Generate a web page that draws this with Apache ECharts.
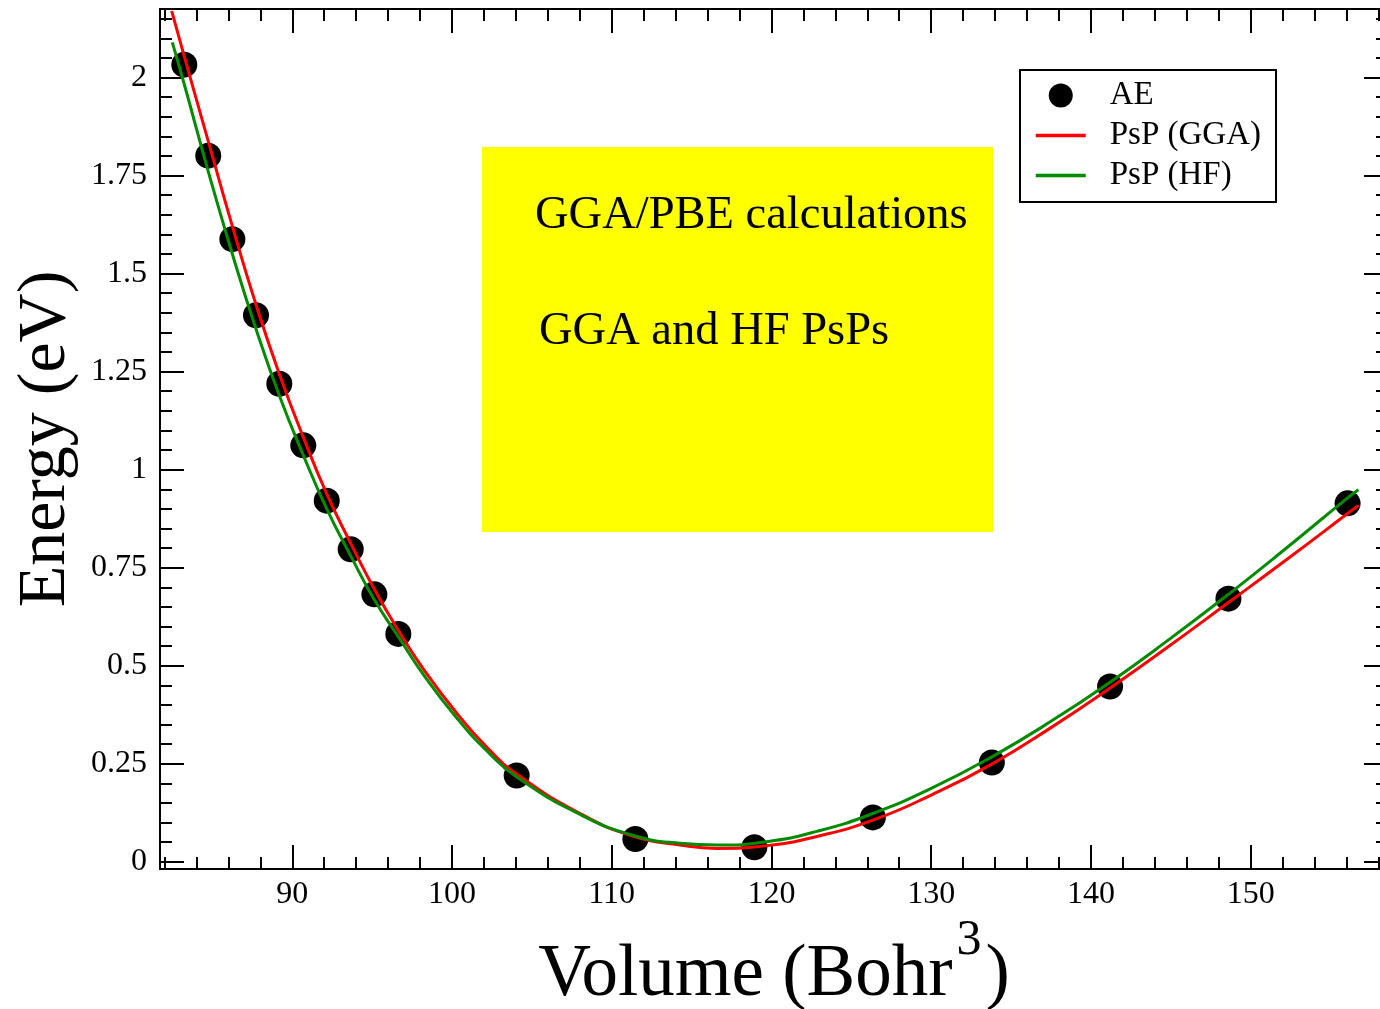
<!DOCTYPE html>
<html>
<head>
<meta charset="utf-8">
<script src="https://cdn.jsdelivr.net/npm/echarts@6/dist/echarts.min.js"></script>
<style>
html,body{margin:0;padding:0;background:#fff;overflow:hidden;}
#main{width:1390px;height:1009px;}
</style>
</head>
<body>
<div id="main"></div>
<script>
// AE points (volume, energy)
var aeVol = [83.24, 84.74, 86.25, 87.73, 89.19, 90.69, 92.16, 93.66, 95.14, 96.64,
	104.05, 111.48, 118.93, 126.35, 133.8, 141.2, 148.61, 156.07];
var aeEnergy = [2.033, 1.801, 1.588, 1.394, 1.219, 1.062, 0.921, 0.797, 0.682, 0.581,
	0.220, 0.058, 0.037, 0.113, 0.253, 0.447, 0.671, 0.914];

// PsP (GGA) curve
var ggaVol = [82.45, 83.24, 84.74, 86.25, 87.73, 89.19, 90.69, 92.16, 93.66, 95.14, 96.64,
	98.2, 100.35, 102.2, 104.05, 108.02, 111.36, 114.28, 116.58, 119.71, 122.9, 126.35,
	130.0, 133.8, 137.5, 141.2, 144.9, 148.61, 152.3, 156.07, 156.75];
var ggaEnergy = [2.17, 2.054, 1.838, 1.621, 1.421, 1.244, 1.083, 0.938, 0.812, 0.695, 0.590,
	0.492, 0.376, 0.291, 0.224, 0.123, 0.065, 0.0425, 0.034, 0.041, 0.065, 0.106,
	0.170, 0.249, 0.342, 0.443, 0.550, 0.661, 0.772, 0.888, 0.909];

// PsP (HF) curve
var hfVol = [82.49, 83.24, 84.74, 86.25, 87.73, 89.19, 90.69, 92.16, 93.66, 95.14, 96.64,
	98.2, 100.35, 102.2, 104.05, 108.02, 111.36, 114.28, 116.58, 119.71, 122.9, 126.35,
	130.0, 133.8, 137.5, 141.2, 144.9, 148.61, 152.3, 156.07, 156.75];
var hfEnergy = [2.09, 1.983, 1.761, 1.550, 1.359, 1.189, 1.037, 0.900, 0.780, 0.668, 0.574,
	0.478, 0.364, 0.282, 0.216, 0.1205, 0.067, 0.047, 0.0425, 0.051, 0.078, 0.123,
	0.187, 0.2675, 0.358, 0.458, 0.567, 0.682, 0.802, 0.928, 0.949];

// ticks
var xMajorTicks = [90, 100, 110, 120, 130, 140, 150];
var xMinorTicks = [82, 84, 86, 88, 92, 94, 96, 98, 102, 104, 106, 108, 112, 114, 116, 118,
	122, 124, 126, 128, 132, 134, 136, 138, 142, 144, 146, 148, 152, 154, 156, 158];
var yMajorTicks = [0, 0.25, 0.5, 0.75, 1, 1.25, 1.5, 1.75, 2];
var yMinorTicks = [0.05, 0.1, 0.15, 0.2, 0.3, 0.35, 0.4, 0.45, 0.55, 0.6, 0.65, 0.7,
	0.8, 0.85, 0.9, 0.95, 1.05, 1.1, 1.15, 1.2, 1.3, 1.35, 1.4, 1.45, 1.55, 1.6, 1.65, 1.7,
	1.8, 1.85, 1.9, 1.95, 2.05, 2.1, 2.15];

var XMIN = 81.72, XMAX = 158.6, YMIN = -0.0186, YMAX = 2.175;
var serif = 'Liberation Serif';

function pairs(xs, ys){
	var out = [];
	for(var i=0;i<xs.length;i++) out.push([xs[i], ys[i]]);
	return out;
}

function xAx(pos, ticks, len, withLabels){
	return {
		type: 'value', position: pos, min: XMIN, max: XMAX,
		axisLine: {show: true, onZero: false, lineStyle: {color: '#000', width: 2}},
		axisTick: {show: true, inside: true, length: len, customValues: ticks, lineStyle: {color: '#000', width: 2}},
		axisLabel: {show: withLabels, customValues: ticks, color: '#000', fontFamily: serif, fontSize: 32, margin: 10},
		splitLine: {show: false}
	};
}
function yAx(pos, ticks, len, withLabels){
	return {
		type: 'value', position: pos, min: YMIN, max: YMAX,
		axisLine: {show: true, onZero: false, lineStyle: {color: '#000', width: 2}},
		axisTick: {show: true, inside: true, length: len, customValues: ticks, lineStyle: {color: '#000', width: 2}},
		axisLabel: {show: withLabels, customValues: ticks, color: '#000', fontFamily: serif, fontSize: 32, margin: 13},
		splitLine: {show: false}
	};
}

var xAxes = [xAx('bottom', xMajorTicks, 24, true), xAx('bottom', xMinorTicks, 12, false),
	xAx('top', xMajorTicks, 24, false), xAx('top', xMinorTicks, 12, false)];
xAxes[0].name = '{a|Volume (Bohr}{s|3}{a|)}';
xAxes[0].nameLocation = 'middle';
xAxes[0].nameGap = 42;
xAxes[0].nameTextStyle = {
	color: '#000', fontFamily: serif,
	rich: {
		a: {fontSize: 73, fontFamily: serif, color: '#000', lineHeight: 120},
		s: {fontSize: 50, fontFamily: serif, color: '#000', verticalAlign: 'top', padding: [0, 4, 0, 4]}
	}
};
var yAxes = [yAx('left', yMajorTicks, 24, true), yAx('left', yMinorTicks, 12, false),
	yAx('right', yMajorTicks, 24, false), yAx('right', yMinorTicks, 12, false)];
yAxes[0].name = 'Energy (eV)';
yAxes[0].nameLocation = 'middle';
yAxes[0].nameGap = 78;
yAxes[0].nameTextStyle = {color: '#000', fontFamily: serif, fontSize: 68};

var chart = echarts.init(document.getElementById('main'));
var option = {
	backgroundColor: '#fff',
	animation: false,
	grid: {left: 160, right: 2, top: 9, bottom: 140, outerBoundsMode: 'none', containLabel: false},
	xAxis: xAxes,
	yAxis: yAxes,
	graphic: [
		{type: 'rect', z: 1, shape: {x: 482, y: 147, width: 511, height: 385}, style: {fill: '#ffff00'}},
		{type: 'text', z: 2, x: 535, y: 216, style: {text: 'GGA/PBE calculations', font: '46.5px "Liberation Serif"', fill: '#000', verticalAlign: 'middle'}},
		{type: 'text', z: 2, x: 539, y: 332, style: {text: 'GGA and HF PsPs', font: '46.5px "Liberation Serif"', fill: '#000', verticalAlign: 'middle'}}
	],
	legend: {
		orient: 'vertical', left: 1020, top: 70,
		backgroundColor: '#fff', borderColor: '#000', borderWidth: 2, borderRadius: 0,
		padding: [9, 15, 10, 14],
		itemWidth: 50, itemHeight: 24, itemGap: 7,
		textStyle: {color: '#000', fontFamily: serif, fontSize: 33, padding: [0, 0, 0, 19]},
		data: [
			{name: 'AE'},
			{name: 'PsP (GGA)', itemStyle: {opacity: 0}, lineStyle: {width: 3.5}},
			{name: 'PsP (HF)', itemStyle: {opacity: 0}, lineStyle: {width: 3.5}}
		]
	},
	series: [
		{
			name: 'AE', type: 'scatter', symbol: 'circle', symbolSize: 26, z: 3,
			itemStyle: {color: '#000', opacity: 1},
			data: pairs(aeVol, aeEnergy)
		},
		{
			name: 'PsP (GGA)', type: 'line', smooth: 0.5, showSymbol: false, symbol: 'none', z: 4,
			lineStyle: {color: '#ff0000', width: 3}, itemStyle: {color: '#ff0000'},
			data: pairs(ggaVol, ggaEnergy)
		},
		{
			name: 'PsP (HF)', type: 'line', smooth: 0.5, showSymbol: false, symbol: 'none', z: 5,
			lineStyle: {color: '#008b00', width: 3}, itemStyle: {color: '#008b00'},
			data: pairs(hfVol, hfEnergy)
		}
	]
};
chart.setOption(option);
</script>
</body>
</html>
